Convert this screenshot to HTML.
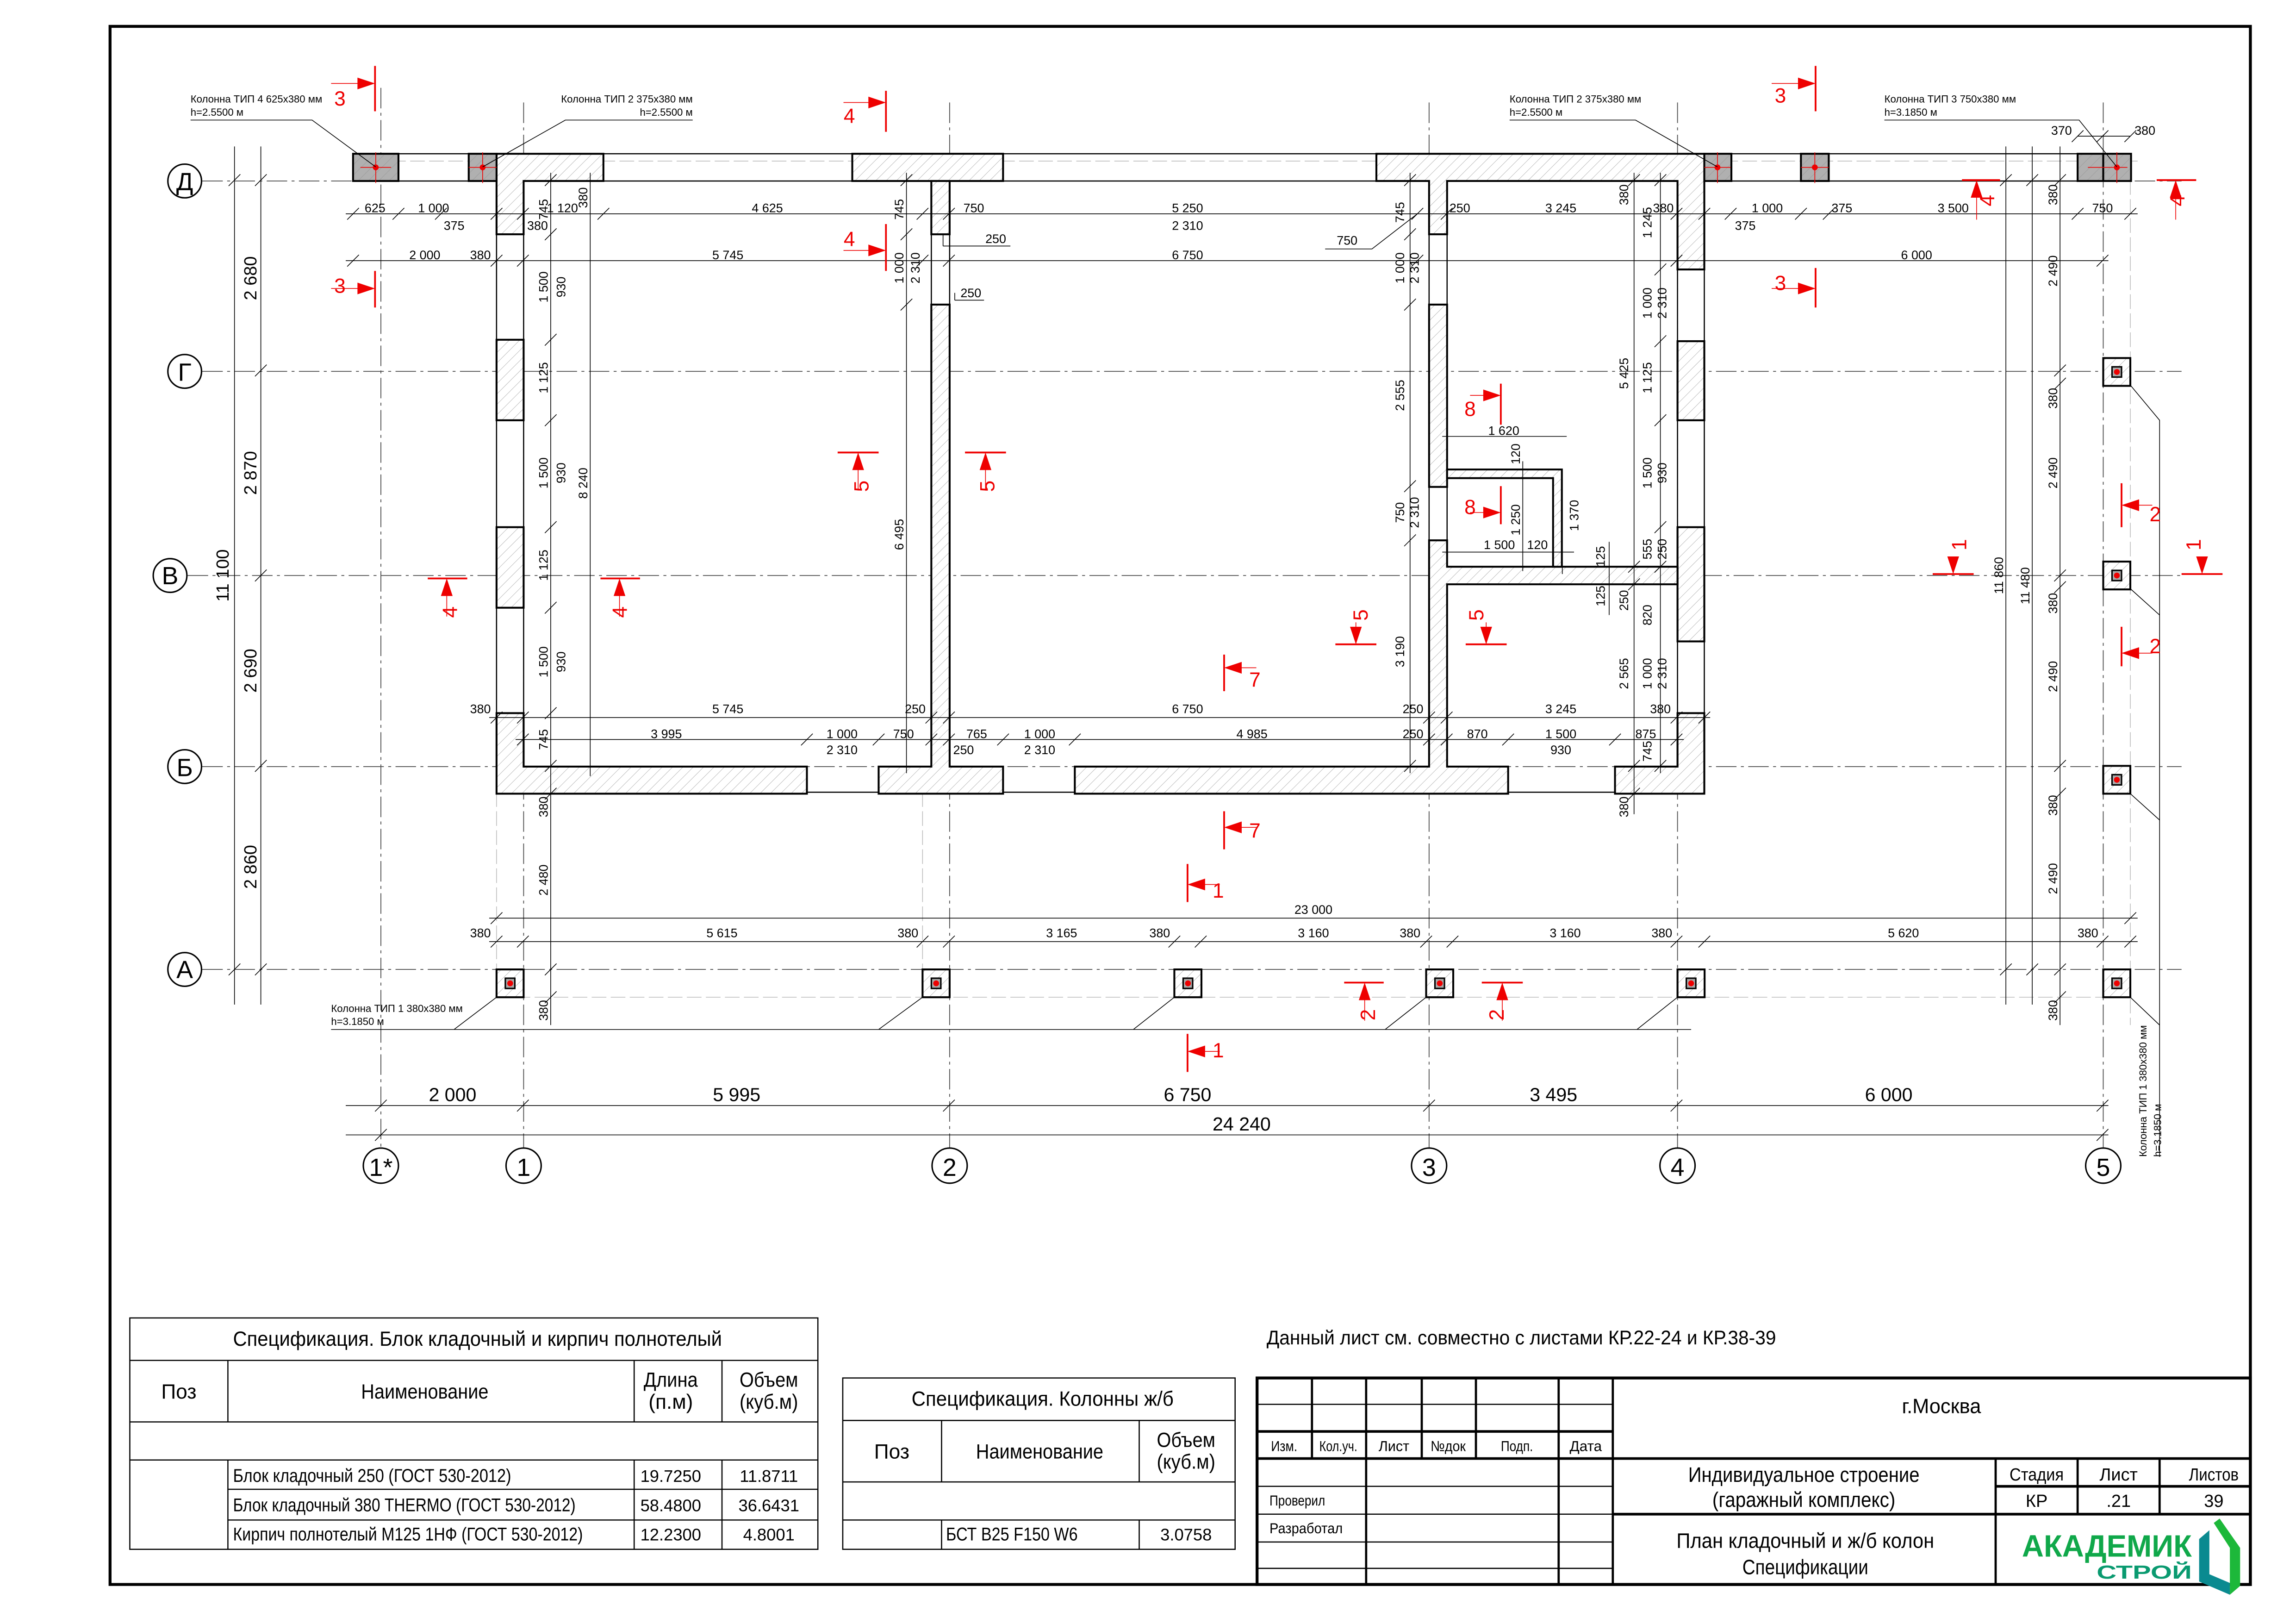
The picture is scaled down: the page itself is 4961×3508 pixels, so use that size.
<!DOCTYPE html>
<html><head><meta charset="utf-8"><style>
html,body{margin:0;padding:0;background:#fff}
svg{display:block}
text{font-family:"Liberation Sans Narrow","Liberation Sans","Noto Sans CJK SC",sans-serif;fill:#000}
</style></head><body>
<svg width="4961" height="3508" viewBox="0 0 1568 1109" xmlns="http://www.w3.org/2000/svg">
<defs>
<pattern id="h" width="5" height="5" patternUnits="userSpaceOnUse" patternTransform="rotate(45)">
<rect width="5" height="5" fill="#fff"/><line x1="0" y1="0" x2="0" y2="5" stroke="#aaa" stroke-width="0.5"/></pattern>
<pattern id="hg" width="5" height="5" patternUnits="userSpaceOnUse" patternTransform="rotate(45)">
<rect width="5" height="5" fill="#b0b0b0"/><line x1="0" y1="0" x2="0" y2="5" stroke="#999" stroke-width="0.5"/></pattern>
</defs>
<rect width="1568" height="1109" fill="#fff"/>
<rect x="75" y="18" width="1462" height="1064" fill="none" stroke="#000" stroke-width="2"/>

<g stroke="#555" stroke-width="0.6" stroke-dasharray="14,3,2,3" fill="none">
<line x1="138" y1="123.6" x2="1490" y2="123.6"/>
<line x1="138" y1="253.6" x2="1490" y2="253.6"/>
<line x1="128" y1="393" x2="1490" y2="393"/>
<line x1="138" y1="523.5" x2="1490" y2="523.5"/>
<line x1="138" y1="662" x2="1490" y2="662"/>
<line x1="260" y1="60" x2="260" y2="784"/>
<line x1="357.5" y1="70" x2="357.5" y2="784"/>
<line x1="648.5" y1="70" x2="648.5" y2="784"/>
<line x1="976" y1="70" x2="976" y2="784"/>
<line x1="1145.7" y1="70" x2="1145.7" y2="784"/>
<line x1="1436.5" y1="70" x2="1436.5" y2="784"/>
</g>
<g stroke="#bbb" stroke-width="0.5" stroke-dasharray="10,3" fill="none">
<line x1="241" y1="110" x2="1460" y2="110"/>
<line x1="339" y1="681" x2="1455" y2="681"/>
<line x1="1455" y1="110" x2="1455" y2="700"/>
<line x1="339" y1="541" x2="339" y2="681"/>
<line x1="630" y1="541" x2="630" y2="681"/>
</g>

<g fill="#fff" stroke="#000" stroke-width="1">
<circle cx="126" cy="123.6" r="11.5"/><circle cx="126" cy="253.6" r="11.5"/><circle cx="116" cy="393" r="11.5"/>
<circle cx="126" cy="523.5" r="11.5"/><circle cx="126" cy="662" r="11.5"/>
<circle cx="260" cy="796" r="12"/><circle cx="357.5" cy="796" r="12"/><circle cx="648.5" cy="796" r="12"/>
<circle cx="976" cy="796" r="12"/><circle cx="1145.7" cy="796" r="12"/><circle cx="1436.5" cy="796" r="12"/>
</g>
<g font-size="17" text-anchor="middle">
<text x="126" y="130">Д</text><text x="126" y="260">Г</text><text x="116" y="399">В</text>
<text x="126" y="530">Б</text><text x="126" y="668">А</text>
<text x="260" y="803">1*</text><text x="357.5" y="803">1</text><text x="648.5" y="803">2</text>
<text x="976" y="803">3</text><text x="1145.7" y="803">4</text><text x="1436.5" y="803">5</text>
</g>

<g stroke="#000" stroke-width="0.8">
<line x1="272" y1="105" x2="320" y2="105"/><line x1="272" y1="123.6" x2="320" y2="123.6"/>
<line x1="412" y1="105" x2="582" y2="105"/><line x1="412" y1="123.6" x2="582" y2="123.6"/>
<line x1="685" y1="105" x2="940" y2="105"/><line x1="685" y1="123.6" x2="940" y2="123.6"/>
<line x1="1182" y1="105" x2="1419" y2="105"/><line x1="1182" y1="123.6" x2="1419" y2="123.6"/>
<line x1="339" y1="160" x2="339" y2="487"/><line x1="357.5" y1="160" x2="357.5" y2="487"/>
<line x1="1145.7" y1="184" x2="1145.7" y2="487"/><line x1="1164" y1="184" x2="1164" y2="487"/>
<line x1="551" y1="541" x2="600" y2="541"/><line x1="685" y1="541" x2="734" y2="541"/><line x1="1030" y1="541" x2="1103" y2="541"/>
<line x1="636" y1="160" x2="636" y2="208"/><line x1="648.5" y1="160" x2="648.5" y2="208"/>
<line x1="976" y1="160" x2="976" y2="208"/><line x1="988.3" y1="160" x2="988.3" y2="208"/>
<line x1="976" y1="332" x2="976" y2="369"/><line x1="988.3" y1="332" x2="988.3" y2="369"/>
</g>

<g fill="url(#h)" stroke="#000" stroke-width="1.3">
<path d="M339,105 H412 V123.6 H357.5 V160 H339 Z"/>
<rect x="582" y="105" width="103" height="18.6"/>
<path d="M940,105 H1164 V184 H1145.7 V123.6 H988.3 V160 H976 V123.6 H940 Z"/>
<rect x="339" y="232" width="18.5" height="55"/>
<rect x="339" y="360" width="18.5" height="55"/>
<path d="M339,487 H357.5 V523.5 H551 V542 H339 Z"/>
<rect x="1145.7" y="233" width="18.3" height="54"/>
<rect x="1145.7" y="360" width="18.3" height="78"/>
<path d="M1145.7,487 H1164 V542 H1103 V523.5 H1145.7 Z"/>
<path d="M600,523.5 H636 V208 H648.5 V523.5 H685 V542 H600 Z"/>
<rect x="636" y="123.6" width="12.5" height="36.4"/>
<path d="M734,523.5 H976 V369 H988.3 V387 H1145.7 V399 H988.3 V523.5 H1030 V542 H734 Z"/>
<rect x="976" y="208" width="12.3" height="124.5"/>
<path d="M988.3,320.6 H1066.7 V387 H1060.7 V326.5 H988.3 Z"/>
</g>
<g fill="url(#hg)" stroke="#000" stroke-width="1.3">
<rect x="241" y="105" width="31" height="18.6"/>
<rect x="320" y="105" width="19" height="18.6"/>
<rect x="1164" y="105" width="18.5" height="18.6"/>
<rect x="1230" y="105" width="19" height="18.6"/>
<rect x="1419" y="105" width="36.5" height="18.6"/>
<line x1="1436.5" y1="105" x2="1436.5" y2="123.6"/>
</g>
<g stroke="#000" stroke-width="1.3" fill="url(#h)">
<rect x="339" y="662" width="18.5" height="19"/><rect x="630" y="662" width="18.5" height="19"/>
<rect x="802" y="662" width="18.5" height="19"/><rect x="974" y="662" width="18.5" height="19"/>
<rect x="1145.7" y="662" width="18.5" height="19"/><rect x="1436.5" y="662" width="18.5" height="19"/>
<rect x="1436.5" y="244.5" width="18.5" height="19"/><rect x="1436.5" y="383.5" width="18.5" height="19"/>
<rect x="1436.5" y="523" width="18.5" height="19"/>
</g>
<g stroke="#000" stroke-width="1" fill="#aaa">
<rect x="345" y="668" width="6.5" height="7"/><rect x="636" y="668" width="6.5" height="7"/>
<rect x="808" y="668" width="6.5" height="7"/><rect x="980" y="668" width="6.5" height="7"/>
<rect x="1151.7" y="668" width="6.5" height="7"/><rect x="1442.5" y="668" width="6.5" height="7"/>
<rect x="1442.5" y="250.5" width="6.5" height="7"/><rect x="1442.5" y="389.5" width="6.5" height="7"/>
<rect x="1442.5" y="529" width="6.5" height="7"/>
</g>
<g fill="#e00">
<circle cx="348.3" cy="671.5" r="2"/><circle cx="639.3" cy="671.5" r="2"/><circle cx="811.3" cy="671.5" r="2"/>
<circle cx="983.3" cy="671.5" r="2"/><circle cx="1155" cy="671.5" r="2"/><circle cx="1445.8" cy="671.5" r="2"/>
<circle cx="1445.8" cy="254" r="2"/><circle cx="1445.8" cy="393" r="2"/><circle cx="1445.8" cy="532.5" r="2"/>
<circle cx="256.5" cy="114.3" r="2"/><circle cx="329.5" cy="114.3" r="2"/><circle cx="1173" cy="114.3" r="2"/>
<circle cx="1239.5" cy="114.3" r="2"/><circle cx="1445.8" cy="114.3" r="2"/>
</g>
<g stroke="#e00" stroke-width="0.5">
<path d="M246,114.3h21M256.5,104v21M320,114.3h19M329.5,104v21M1164,114.3h18M1173,104v21M1230,114.3h19M1239.5,104v21M1426,114.3h27M1445.8,104v21"/>
</g>

<g stroke="#000" stroke-width="0.5" fill="none">
<path d="M130,82 H213 L256.5,114"/>
<path d="M473,82 H386 L329.5,114"/>
<path d="M1031,82 H1117 L1173,114"/>
<path d="M1287,82 H1420 L1445.8,114"/>
<path d="M226,703 H1155"/>
<path d="M310,703 L339,681 M600,703 L630,681 M774,703 L802,681 M946,703 L974,681 M1118,703 L1145.7,681"/>
<path d="M1455,263 L1475,287 V790 M1455,402 L1475,420 M1455,542 L1475,560 M1455,681 L1475,700"/>
</g>
<g font-size="7">
<text x="130" y="70">Колонна ТИП 4 625х380 мм</text><text x="130" y="79">h=2.5500 м</text>
<text x="473" y="70" text-anchor="end">Колонна ТИП 2 375х380 мм</text><text x="473" y="79" text-anchor="end">h=2.5500 м</text>
<text x="1031" y="70">Колонна ТИП 2 375х380 мм</text><text x="1031" y="79">h=2.5500 м</text>
<text x="1287" y="70">Колонна ТИП 3 750х380 мм</text><text x="1287" y="79">h=3.1850 м</text>
<text x="226" y="691">Колонна ТИП 1 380х380 мм</text><text x="226" y="700">h=3.1850 м</text>
<text transform="translate(1466,790) rotate(-90)">Колонна ТИП 1 380х380 мм</text>
<text transform="translate(1476,790) rotate(-90)">h=3.1850 м</text>
</g>

<g stroke="#000" stroke-width="0.5" fill="none">
<line x1="236" y1="146" x2="1460" y2="146"/>
<line x1="236" y1="178" x2="1440" y2="178"/>
<line x1="334" y1="490" x2="1168" y2="490"/>
<line x1="352" y1="505" x2="1150" y2="505"/>
<line x1="334" y1="627" x2="1460" y2="627"/>
<line x1="334" y1="643" x2="1460" y2="643"/>
<line x1="236" y1="755" x2="1440" y2="755"/>
<line x1="236" y1="775" x2="1440" y2="775"/>
<line x1="160" y1="100" x2="160" y2="686"/>
<line x1="178" y1="100" x2="178" y2="686"/>
<line x1="376" y1="118" x2="376" y2="700"/>
<line x1="403" y1="118" x2="403" y2="530"/>
<line x1="619" y1="118" x2="619" y2="528"/>
<line x1="963" y1="118" x2="963" y2="528"/>
<line x1="1116" y1="118" x2="1116" y2="556"/>
<line x1="1134" y1="118" x2="1134" y2="528"/>
<line x1="1370" y1="100" x2="1370" y2="686"/>
<line x1="1388" y1="100" x2="1388" y2="686"/>
<line x1="1407" y1="100" x2="1407" y2="700"/>
<line x1="1419" y1="93" x2="1455" y2="93"/>
<line x1="985" y1="298" x2="1070" y2="298"/>
<line x1="985" y1="377" x2="1075" y2="377"/>
<line x1="1040" y1="315" x2="1040" y2="390"/>
<line x1="1067" y1="340" x2="1067" y2="392"/>
<line x1="1099" y1="370" x2="1099" y2="420"/>
<path d="M905,170 H937 L968,146"/>
<path d="M644,168 H690 M644,160 V168"/>
<path d="M652,205 H672 M652,200 V205"/>
</g>
<g stroke="#000" stroke-width="0.5">
<path d="M237,150l8,-8M268,150l8,-8M297,150l8,-8M335,150l8,-8M353,150l8,-8M408,150l8,-8M626,150l8,-8M644,150l8,-8M964,150l8,-8M984,150l8,-8M1141,150l8,-8M1160,150l8,-8M1178,150l8,-8M1226,150l8,-8M1245,150l8,-8M1415,150l8,-8M1451,150l8,-8"/>
<path d="M237,182l8,-8M335,182l8,-8M353,182l8,-8M626,182l8,-8M644,182l8,-8M964,182l8,-8M1141,182l8,-8M1432,182l8,-8"/>
<path d="M335,494l8,-8M353,494l8,-8M632,494l8,-8M644,494l8,-8M972,494l8,-8M984,494l8,-8M1141,494l8,-8M1160,494l8,-8"/>
<path d="M353,509l8,-8M547,509l8,-8M596,509l8,-8M632,509l8,-8M644,509l8,-8M681,509l8,-8M730,509l8,-8M972,509l8,-8M984,509l8,-8M1026,509l8,-8M1099,509l8,-8M1141,509l8,-8"/>
<path d="M335,631l8,-8M1451,631l8,-8"/>
<path d="M335,647l8,-8M353,647l8,-8M626,647l8,-8M644,647l8,-8M798,647l8,-8M816,647l8,-8M970,647l8,-8M988,647l8,-8M1141,647l8,-8M1160,647l8,-8M1432,647l8,-8M1451,647l8,-8"/>
<path d="M256,759l8,-8M353,759l8,-8M644,759l8,-8M972,759l8,-8M1141,759l8,-8M1432,759l8,-8"/>
<path d="M256,779l8,-8M1432,779l8,-8"/>
<path d="M156,127l8,-8M156,666l8,-8M174,127l8,-8M174,257l8,-8M174,397l8,-8M174,527l8,-8M174,666l8,-8"/>
<path d="M372,127l8,-8M372,164l8,-8M372,236l8,-8M372,291l8,-8M372,364l8,-8M372,419l8,-8M372,491l8,-8M372,527l8,-8M372,546l8,-8M372,666l8,-8M372,685l8,-8"/>
<path d="M615,127l8,-8M615,164l8,-8M615,212l8,-8M959,127l8,-8M959,164l8,-8M959,212l8,-8M959,336l8,-8M959,373l8,-8M959,527l8,-8"/>
<path d="M1112,127l8,-8M1112,391l8,-8M1112,403l8,-8M1112,527l8,-8M1112,546l8,-8M1130,127l8,-8M1130,188l8,-8M1130,237l8,-8M1130,291l8,-8M1130,364l8,-8M1130,391l8,-8M1130,527l8,-8"/>
<path d="M1366,127l8,-8M1366,666l8,-8M1384,127l8,-8M1384,666l8,-8M1403,127l8,-8M1403,257l8,-8M1403,266l8,-8M1403,397l8,-8M1403,405l8,-8M1403,527l8,-8M1403,546l8,-8M1403,666l8,-8M1403,685l8,-8"/>
<path d="M1415,97l8,-8M1432,97l8,-8M1451,97l8,-8"/>
</g>

<g font-size="8.5" text-anchor="middle">
<text x="256" y="145">625</text><text x="296" y="145">1 000</text><text x="310" y="157">375</text><text x="367" y="157">380</text>
<text x="384" y="145">1 120</text><text x="524" y="145">4 625</text><text x="665" y="145">750</text>
<text x="811" y="145">5 250</text><text x="811" y="157">2 310</text><text x="997" y="145">250</text>
<text x="1066" y="145">3 245</text><text x="1136" y="145">380</text><text x="1207" y="145">1 000</text>
<text x="1192" y="157">375</text><text x="1258" y="145">375</text><text x="1334" y="145">3 500</text><text x="1436" y="145">750</text>
<text x="920" y="167">750</text><text x="680" y="166">250</text><text x="663" y="203">250</text>
<text x="290" y="177">2 000</text><text x="328" y="177">380</text><text x="497" y="177">5 745</text>
<text x="811" y="177">6 750</text><text x="1309" y="177">6 000</text>
<text x="328" y="487">380</text><text x="497" y="487">5 745</text><text x="625" y="487">250</text>
<text x="811" y="487">6 750</text><text x="965" y="487">250</text><text x="1066" y="487">3 245</text><text x="1134" y="487">380</text>
<text x="455" y="504">3 995</text><text x="575" y="504">1 000</text><text x="575" y="515">2 310</text><text x="617" y="504">750</text>
<text x="667" y="504">765</text><text x="658" y="515">250</text><text x="710" y="504">1 000</text><text x="710" y="515">2 310</text>
<text x="855" y="504">4 985</text><text x="965" y="504">250</text><text x="1009" y="504">870</text>
<text x="1066" y="504">1 500</text><text x="1066" y="515">930</text><text x="1124" y="504">875</text>
<text x="897" y="624">23 000</text>
<text x="328" y="640">380</text><text x="493" y="640">5 615</text><text x="620" y="640">380</text><text x="725" y="640">3 165</text>
<text x="792" y="640">380</text><text x="897" y="640">3 160</text><text x="963" y="640">380</text><text x="1069" y="640">3 160</text>
<text x="1135" y="640">380</text><text x="1300" y="640">5 620</text><text x="1426" y="640">380</text>
<text x="1027" y="297">1 620</text><text x="1024" y="375">1 500</text><text x="1050" y="375">120</text>
<text x="1408" y="92">370</text><text x="1465" y="92">380</text>
</g>
<g font-size="13" text-anchor="middle">
<text x="309" y="752">2 000</text><text x="503" y="752">5 995</text><text x="811" y="752">6 750</text>
<text x="1061" y="752">3 495</text><text x="1290" y="752">6 000</text><text x="848" y="772">24 240</text>
</g>
<g font-size="12" text-anchor="middle">
<text transform="translate(156,393) rotate(-90)">11 100</text>
<text transform="translate(175,190) rotate(-90)">2 680</text>
<text transform="translate(175,323) rotate(-90)">2 870</text>
<text transform="translate(175,458) rotate(-90)">2 690</text>
<text transform="translate(175,592) rotate(-90)">2 860</text>
</g>
<g font-size="8.5" text-anchor="middle">
<text transform="translate(374,143) rotate(-90)">745</text>
<text transform="translate(401,135) rotate(-90)">380</text>
<text transform="translate(374,196) rotate(-90)">1 500</text><text transform="translate(386,196) rotate(-90)">930</text>
<text transform="translate(374,258) rotate(-90)">1 125</text>
<text transform="translate(374,323) rotate(-90)">1 500</text><text transform="translate(386,323) rotate(-90)">930</text>
<text transform="translate(401,330) rotate(-90)">8 240</text>
<text transform="translate(374,386) rotate(-90)">1 125</text>
<text transform="translate(374,452) rotate(-90)">1 500</text><text transform="translate(386,452) rotate(-90)">930</text>
<text transform="translate(374,505) rotate(-90)">745</text>
<text transform="translate(374,551) rotate(-90)">380</text>
<text transform="translate(374,601) rotate(-90)">2 480</text>
<text transform="translate(374,690) rotate(-90)">380</text>
<text transform="translate(617,143) rotate(-90)">745</text>
<text transform="translate(617,183) rotate(-90)">1 000</text><text transform="translate(628,183) rotate(-90)">2 310</text>
<text transform="translate(617,365) rotate(-90)">6 495</text>
<text transform="translate(959,145) rotate(-90)">745</text>
<text transform="translate(959,183) rotate(-90)">1 000</text><text transform="translate(969,183) rotate(-90)">2 310</text>
<text transform="translate(959,270) rotate(-90)">2 555</text>
<text transform="translate(959,350) rotate(-90)">750</text><text transform="translate(969,350) rotate(-90)">2 310</text>
<text transform="translate(959,445) rotate(-90)">3 190</text>
<text transform="translate(1038,310) rotate(-90)">120</text>
<text transform="translate(1038,355) rotate(-90)">1 250</text>
<text transform="translate(1078,352) rotate(-90)">1 370</text>
<text transform="translate(1096,380) rotate(-90)">125</text>
<text transform="translate(1096,407) rotate(-90)">125</text>
<text transform="translate(1112,133) rotate(-90)">380</text>
<text transform="translate(1112,255) rotate(-90)">5 425</text>
<text transform="translate(1112,410) rotate(-90)">250</text>
<text transform="translate(1112,460) rotate(-90)">2 565</text>
<text transform="translate(1112,551) rotate(-90)">380</text>
<text transform="translate(1128,152) rotate(-90)">1 245</text>
<text transform="translate(1128,207) rotate(-90)">1 000</text><text transform="translate(1138,207) rotate(-90)">2 310</text>
<text transform="translate(1128,258) rotate(-90)">1 125</text>
<text transform="translate(1128,323) rotate(-90)">1 500</text><text transform="translate(1138,323) rotate(-90)">930</text>
<text transform="translate(1128,375) rotate(-90)">555</text><text transform="translate(1138,375) rotate(-90)">250</text>
<text transform="translate(1128,420) rotate(-90)">820</text>
<text transform="translate(1128,460) rotate(-90)">1 000</text><text transform="translate(1138,460) rotate(-90)">2 310</text>
<text transform="translate(1128,513) rotate(-90)">745</text>
<text transform="translate(1368,393) rotate(-90)">11 860</text>
<text transform="translate(1386,400) rotate(-90)">11 480</text>
<text transform="translate(1405,133) rotate(-90)">380</text>
<text transform="translate(1405,185) rotate(-90)">2 490</text>
<text transform="translate(1405,272) rotate(-90)">380</text>
<text transform="translate(1405,323) rotate(-90)">2 490</text>
<text transform="translate(1405,412) rotate(-90)">380</text>
<text transform="translate(1405,462) rotate(-90)">2 490</text>
<text transform="translate(1405,550) rotate(-90)">380</text>
<text transform="translate(1405,600) rotate(-90)">2 490</text>
<text transform="translate(1405,690) rotate(-90)">380</text>
</g>

<g stroke="#e00" stroke-width="1.2" fill="none">
<path d="M256,45V76M256,185V210M605,62V90M605,153V185M1240,45V76M1240,183V210"/>
<path d="M1025,262V290M1025,332V358M836,447V472M836,554V580M811,590V616M811,706V732M1449,330V360M1449,428V455"/>
<path d="M572,309H600M659,309H687M292,395H319M410,395H437M912,440H940M1001,440H1029M918,671H945M1012,671H1040M1340,123H1366M1473,123H1500M1320,392H1348M1490,392H1518"/>
</g>
<g stroke="#e00" stroke-width="0.5" fill="none">
<path d="M226,57H248M226,197H248M576,70H598M576,171H598M1210,57H1232M1210,197H1232M1004,270H1018M1004,350H1018"/>
<path d="M845,456H858M845,565H858M820,604H833M820,718H833M1458,345H1470M1458,446H1470"/>
<path d="M586,314V335M673,314V335M305,400V421M423,400V421M926,425V435M1015,425V435M932,676V697M1026,676V697M1350,128V150M1486,128V150M1334,380V387M1504,380V387"/>
</g>
<g fill="#e00">
<polygon points="256,57 244,53 244,61"/><polygon points="256,197 244,193 244,201"/>
<polygon points="605,70 593,66 593,74"/><polygon points="605,171 593,167 593,175"/>
<polygon points="1240,57 1228,53 1228,61"/><polygon points="1240,197 1228,193 1228,201"/>
<polygon points="1025,270 1013,266 1013,274"/><polygon points="1025,350 1013,346 1013,354"/>
<polygon points="836,456 848,452 848,460"/><polygon points="836,565 848,561 848,569"/>
<polygon points="811,604 823,600 823,608"/><polygon points="811,718 823,714 823,722"/>
<polygon points="1449,345 1461,341 1461,349"/><polygon points="1449,446 1461,442 1461,450"/>
<polygon points="586,309 582,321 590,321"/><polygon points="673,309 669,321 677,321"/>
<polygon points="305,395 301,407 309,407"/><polygon points="423,395 419,407 427,407"/>
<polygon points="926,440 922,428 930,428"/><polygon points="1015,440 1011,428 1019,428"/>
<polygon points="932,671 928,683 936,683"/><polygon points="1026,671 1022,683 1030,683"/>
<polygon points="1350,123 1346,135 1354,135"/><polygon points="1486,123 1482,135 1490,135"/>
<polygon points="1334,392 1330,380 1338,380"/><polygon points="1504,392 1500,380 1508,380"/>
</g>
<g font-size="14" text-anchor="middle">
<text x="232" y="72" style="fill:#e00">3</text><text x="232" y="200" style="fill:#e00">3</text>
<text x="580" y="84" style="fill:#e00">4</text><text x="580" y="168" style="fill:#e00">4</text>
<text x="1216" y="70" style="fill:#e00">3</text><text x="1216" y="198" style="fill:#e00">3</text>
<text x="1004" y="284" style="fill:#e00">8</text><text x="1004" y="351" style="fill:#e00">8</text>
<text x="857" y="469" style="fill:#e00">7</text><text x="857" y="572" style="fill:#e00">7</text>
<text x="832" y="613" style="fill:#e00">1</text><text x="832" y="722" style="fill:#e00">1</text>
<text x="1472" y="356" style="fill:#e00">2</text><text x="1472" y="446" style="fill:#e00">2</text>
<text transform="translate(593,332) rotate(-90)" style="fill:#e00">5</text>
<text transform="translate(679,332) rotate(-90)" style="fill:#e00">5</text>
<text transform="translate(312,418) rotate(-90)" style="fill:#e00">4</text>
<text transform="translate(428,418) rotate(-90)" style="fill:#e00">4</text>
<text transform="translate(934,420) rotate(-90)" style="fill:#e00">5</text>
<text transform="translate(1013,420) rotate(-90)" style="fill:#e00">5</text>
<text transform="translate(939,693) rotate(-90)" style="fill:#e00">2</text>
<text transform="translate(1027,693) rotate(-90)" style="fill:#e00">2</text>
<text transform="translate(1362,137) rotate(-90)" style="fill:#e00">4</text>
<text transform="translate(1492,137) rotate(-90)" style="fill:#e00">4</text>
<text transform="translate(1343,372) rotate(-90)" style="fill:#e00">1</text>
<text transform="translate(1503,372) rotate(-90)" style="fill:#e00">1</text>
</g>

<text x="865" y="918" font-size="13.5" textLength="348" lengthAdjust="spacingAndGlyphs">Данный лист см. совместно с листами КР.22-24 и КР.38-39</text>

<g stroke="#000" stroke-width="0.8" fill="none">
<rect x="88.5" y="900" width="470" height="158"/>
<path d="M88.5,929H558.5M88.5,971H558.5M88.5,997H558.5M155.5,1017H558.5M155.5,1038H558.5"/>
<path d="M155.5,929V971M155.5,997V1058M433,929V971M433,997V1058M493,929V971M493,997V1058"/>
</g>
<g font-size="14" text-anchor="middle">
<text x="326" y="919" textLength="334" lengthAdjust="spacingAndGlyphs">Спецификация. Блок кладочный и кирпич полнотелый</text>
<text x="122" y="955">Поз</text><text x="290" y="955" textLength="87" lengthAdjust="spacingAndGlyphs">Наименование</text>
<text x="458" y="947" textLength="37" lengthAdjust="spacingAndGlyphs">Длина</text><text x="458" y="962">(п.м)</text>
<text x="525" y="947" textLength="40" lengthAdjust="spacingAndGlyphs">Объем</text><text x="525" y="962" textLength="40" lengthAdjust="spacingAndGlyphs">(куб.м)</text>
</g>
<g font-size="12.5">
<text x="159" y="1012" textLength="190" lengthAdjust="spacingAndGlyphs">Блок кладочный 250 (ГОСТ 530-2012)</text>
<text x="159" y="1032" textLength="234" lengthAdjust="spacingAndGlyphs">Блок кладочный 380 THERMO (ГОСТ 530-2012)</text>
<text x="159" y="1052" textLength="239" lengthAdjust="spacingAndGlyphs">Кирпич полнотелый М125 1НФ (ГОСТ 530-2012)</text>
</g>
<g font-size="11.5" text-anchor="middle">
<text x="458" y="1012">19.7250</text><text x="525" y="1012">11.8711</text>
<text x="458" y="1032">58.4800</text><text x="525" y="1032">36.6431</text>
<text x="458" y="1052">12.2300</text><text x="525" y="1052">4.8001</text>
</g>

<g stroke="#000" stroke-width="0.8" fill="none">
<rect x="575.5" y="941" width="268" height="117"/>
<path d="M575.5,970H843.5M575.5,1012H843.5M575.5,1038H843.5M643,970V1012M643,1038V1058M778,970V1012M778,1038V1058"/>
</g>
<g font-size="14" text-anchor="middle">
<text x="712" y="960" textLength="179" lengthAdjust="spacingAndGlyphs">Спецификация. Колонны ж/б</text>
<text x="609" y="996">Поз</text><text x="710" y="996" textLength="87" lengthAdjust="spacingAndGlyphs">Наименование</text>
<text x="810" y="988" textLength="40" lengthAdjust="spacingAndGlyphs">Объем</text><text x="810" y="1003" textLength="40" lengthAdjust="spacingAndGlyphs">(куб.м)</text>
</g>
<text x="646" y="1052" font-size="12.5" textLength="90" lengthAdjust="spacingAndGlyphs">БСТ В25 F150 W6</text>
<text x="810" y="1052" font-size="11.5" text-anchor="middle">3.0758</text>

<g stroke="#000" fill="none">
<rect x="858.5" y="941" width="678.5" height="141" stroke-width="2"/>
<path d="M858.5,959H1101.5M858.5,996H1101.5M858.5,1015H1101.5M858.5,1034H1101.5M858.5,1053H1101.5M858.5,1071H1101.5" stroke-width="0.8"/>
<path d="M858.5,977.5H1101.5M858.5,996H1537M1101.5,1034H1537M1363,1015H1537" stroke-width="1.8"/>
<path d="M896,941V996M971,941V996M1008,941V996" stroke-width="1.5"/>
<path d="M933,941V1082M1064.5,941V1082M1101.5,941V1082M1363,996V1082M1419,996V1034M1475,996V1034" stroke-width="1.5"/>
</g>
<g font-size="10" text-anchor="middle">
<text x="877" y="991" textLength="18" lengthAdjust="spacingAndGlyphs">Изм.</text>
<text x="914" y="991" textLength="26" lengthAdjust="spacingAndGlyphs">Кол.уч.</text>
<text x="952" y="991" textLength="21" lengthAdjust="spacingAndGlyphs">Лист</text>
<text x="989" y="991" textLength="24" lengthAdjust="spacingAndGlyphs">№док</text>
<text x="1036" y="991" textLength="22" lengthAdjust="spacingAndGlyphs">Подп.</text>
<text x="1083" y="991" textLength="22" lengthAdjust="spacingAndGlyphs">Дата</text>
</g>
<text x="867" y="1028" font-size="10" textLength="38" lengthAdjust="spacingAndGlyphs">Проверил</text>
<text x="867" y="1047" font-size="10" textLength="50" lengthAdjust="spacingAndGlyphs">Разработал</text>
<text x="1326" y="965" font-size="14" text-anchor="middle" textLength="54" lengthAdjust="spacingAndGlyphs">г.Москва</text>
<g font-size="14.5" text-anchor="middle">
<text x="1232" y="1012" textLength="158" lengthAdjust="spacingAndGlyphs">Индивидуальное строение</text>
<text x="1232" y="1029" textLength="125" lengthAdjust="spacingAndGlyphs">(гаражный комплекс)</text>
<text x="1233" y="1057" textLength="176" lengthAdjust="spacingAndGlyphs">План кладочный и ж/б колон</text>
<text x="1233" y="1075" textLength="86" lengthAdjust="spacingAndGlyphs">Спецификации</text>
</g>
<g font-size="12" text-anchor="middle">
<text x="1391" y="1011" textLength="37" lengthAdjust="spacingAndGlyphs">Стадия</text><text x="1447" y="1011">Лист</text><text x="1512" y="1011" textLength="34" lengthAdjust="spacingAndGlyphs">Листов</text>
<text x="1391" y="1029">КР</text><text x="1447" y="1029">.21</text><text x="1512" y="1029">39</text>
</g>
<text x="1381" y="1063" font-size="21" font-weight="bold" style="fill:#10a84a;font-family:'Liberation Sans',sans-serif" textLength="116" lengthAdjust="spacingAndGlyphs">АКАДЕМИК</text>
<text x="1432" y="1078" font-size="13" font-weight="bold" style="fill:#0a9a70;font-family:'Liberation Sans',sans-serif" textLength="65" lengthAdjust="spacingAndGlyphs">СТРОЙ</text>
<polygon points="1502,1051 1509,1045 1509,1075 1523,1081 1523,1089 1502,1080" fill="#0a8a90"/>
<polygon points="1512,1040 1516,1037 1530,1057 1530,1083 1523,1089 1523,1057" fill="#1db83a"/>
</svg>
</body></html>
